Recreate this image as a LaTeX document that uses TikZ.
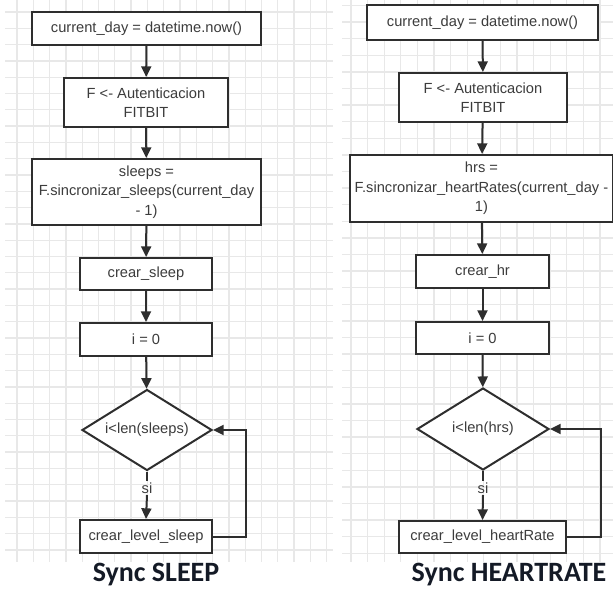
\documentclass[tikz,border=0pt]{standalone}
\usepackage{fontspec}
\setmainfont{Liberation Sans}
\newfontfamily\titlefont{Carlito}
\usetikzlibrary{arrows.meta,shapes.geometric}
\definecolor{gridgray}{HTML}{E8E8E8}
\definecolor{linegray}{HTML}{2E2E2E}
\definecolor{textgray}{HTML}{3C3C3C}
\definecolor{titleblue}{HTML}{141A26}

\begin{document}
\begin{tikzpicture}[x=0.75pt, y=-0.75pt, >={Triangle[length=8pt,width=7.5pt]},
  gridline/.style={draw=gridgray, line width=1pt},
  proc/.style={draw=linegray, fill=white, line width=1.5pt, text=textgray, align=center, inner sep=0pt, font=\fontsize{11}{14.5}\selectfont},
  decision/.style={diamond, draw=linegray, fill=white, line width=1.5pt, text=textgray, inner sep=0pt, shape aspect=1.6, font=\fontsize{11}{14.5}\selectfont},
  silbl/.style={text=textgray, inner sep=1pt, font=\fontsize{11}{14.5}\selectfont},
  flow/.style={->, draw=linegray, line width=1.5pt},
  title/.style={text=titleblue, font=\titlefont\bfseries\fontsize{21}{25}\selectfont}]
\useasboundingbox (0,0) rectangle (613,590);

% grid paper, left and right
\foreach \k in {0,...,19} \draw[gridline] ({17+16.3*\k},0) -- ({17+16.3*\k},562);
\foreach \k in {0,...,33} \draw[gridline] (5,{12+16.3*\k}) -- (333,{12+16.3*\k});
\foreach \k in {0,...,15} \draw[gridline] ({351+16.6*\k},0) -- ({351+16.6*\k},562);
\foreach \k in {0,...,33} \draw[gridline] (342,{5.5+16.6*\k}) -- (613,{5.5+16.6*\k});

% Sync SLEEP
\node[proc, minimum width=171.75pt, minimum height=24.75pt] (s1) at (146.5,28.5) {current\_day = datetime.now()};
\node[proc, minimum width=123pt, minimum height=36.75pt] (s2) at (146,102.5) {F <- Autenticacion\\FITBIT};
\node[proc, minimum width=171.75pt, minimum height=49.5pt] (s3) at (146.5,192) {sleeps =\\F.sincronizar\_sleeps(current\_day\\- 1)};
\node[proc, minimum width=99pt, minimum height=24pt] (s4) at (146,274) {crear\_sleep};
\node[proc, minimum width=99pt, minimum height=24.75pt] (s5) at (146,339.5) {i = 0};
\node[decision, minimum width=97.5pt, minimum height=60.75pt] (sd) at (147,430) {i<len(sleeps)};
\node[silbl] (ssi) at (147,488) {si};
\node[proc, minimum width=99pt, minimum height=24.75pt] (s6) at (146,536.5) {crear\_level\_sleep};
\draw[flow] (s1) -- (s2);
\draw[flow] (s2) -- (s3);
\draw[flow] (s3) -- (s4);
\draw[flow] (s4) -- (s5);
\draw[flow] (s5) -- (sd);
\draw[linegray, line width=1.5pt] (sd.south) -- (ssi.north);
\draw[flow] (ssi.south) -- (s6.north);
\draw[flow] (s6.east) -- ++(33,0) |- (sd.east);
\node[title] (stitle) at (156,575) {Sync SLEEP};

% Sync HEARTRATE
\node[proc, minimum width=173.25pt, minimum height=26.25pt] (h1) at (482.5,22.5) {current\_day = datetime.now()};
\node[proc, minimum width=126pt, minimum height=36.75pt] (h2) at (483,97.5) {F <- Autenticacion\\FITBIT};
\node[proc, minimum width=197.25pt, minimum height=50.25pt] (h3) at (481.5,188.5) {hrs =\\F.sincronizar\_heartRates(current\_day -\\1)};
\node[proc, minimum width=99.75pt, minimum height=24.75pt] (h4) at (482.5,271.5) {crear\_hr};
\node[proc, minimum width=99.75pt, minimum height=24pt] (h5) at (482.5,338) {i = 0};
\node[decision, minimum width=99pt, minimum height=61.5pt] (hd) at (483,429) {i<len(hrs)};
\node[silbl] (hsi) at (483,488) {si};
\node[proc, minimum width=125.25pt, minimum height=24pt] (h6) at (482.5,537) {crear\_level\_heartRate};
\draw[flow] (h1) -- (h2);
\draw[flow] (h2) -- (h3);
\draw[flow] (h3) -- (h4);
\draw[flow] (h4) -- (h5);
\draw[flow] (h5) -- (hd);
\draw[linegray, line width=1.5pt] (hd.south) -- (hsi.north);
\draw[flow] (hsi.south) -- (h6.north);
\draw[flow] (h6.east) -- ++(34,0) |- (hd.east);
\node[title] (htitle) at (509,575) {Sync HEARTRATE};
\end{tikzpicture}
\end{document}
